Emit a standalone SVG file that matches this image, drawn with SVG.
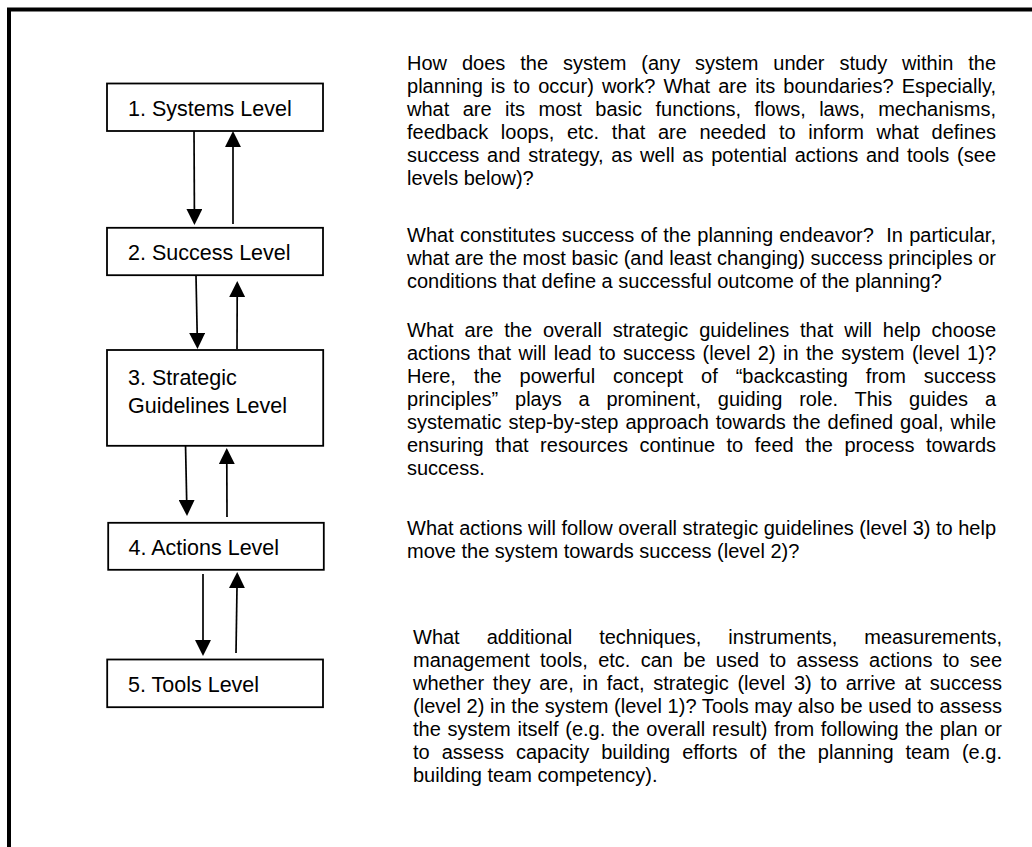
<svg xmlns="http://www.w3.org/2000/svg" width="1032" height="847" viewBox="0 0 1032 847">
<defs>
<style>
.frame{fill:none;stroke:#000;stroke-width:4}
.box{fill:#fff;stroke:#000;stroke-width:1.8}
.lbl{font-family:"Liberation Sans",Arial,sans-serif;font-size:21.5px;fill:#000}
.txt{font-family:"Liberation Sans",Arial,sans-serif;font-size:20px;fill:#000}
.conn{stroke:#000;stroke-width:1.7;fill:none}
</style>
<marker id="ah" markerUnits="userSpaceOnUse" markerWidth="16" markerHeight="16" viewBox="0 0 15 15" refX="1" refY="7.5" orient="auto"><path d="M0,0 L15,7.5 L0,15 Z" fill="#000"/></marker>
</defs>
<rect width="1032" height="847" fill="#fff"/>
<path class="frame" d="M9,847 V9.5 H1032"/>

<g id="connectors">
<path class="conn" marker-end="url(#ah)" d="M194,128 L194.4,210"/>
<path class="conn" marker-end="url(#ah)" d="M233,224 L233,146"/>
<path class="conn" marker-end="url(#ah)" d="M196,276 L197.2,334"/>
<path class="conn" marker-end="url(#ah)" d="M237,349 L237.2,296"/>
<path class="conn" marker-end="url(#ah)" d="M185.5,444 L186.7,501"/>
<path class="conn" marker-end="url(#ah)" d="M227,517 L226.8,463"/>
<path class="conn" marker-end="url(#ah)" d="M203,574 L203,641"/>
<path class="conn" marker-end="url(#ah)" d="M236,653 L237,587"/>
</g>

<g id="node-systems">
<rect class="box" x="107" y="83.5" width="216" height="47.5"/>
<text class="lbl" x="128" y="116">1. Systems Level</text>
</g>
<g id="node-success">
<rect class="box" x="107" y="227.8" width="216" height="47.4"/>
<text class="lbl" x="128" y="260">2. Success Level</text>
</g>
<g id="node-strategic">
<rect class="box" x="107" y="350" width="216.2" height="95.8"/>
<text class="lbl" x="128" y="385">3. Strategic</text>
<text class="lbl" x="128" y="413">Guidelines Level</text>
</g>
<g id="node-actions">
<rect class="box" x="108.2" y="522.8" width="215.6" height="47"/>
<text class="lbl" x="128.5" y="555">4. Actions Level</text>
</g>
<g id="node-tools">
<rect class="box" x="107.2" y="659.5" width="215.8" height="47.7"/>
<text class="lbl" x="128" y="692">5. Tools Level</text>
</g>

<g id="desc-systems" class="txt">
<text x="407" y="69.5" word-spacing="9.38" textLength="589" lengthAdjust="spacing">How does the system (any system under study within the</text>
<text x="407" y="92.5" word-spacing="2.46" textLength="589" lengthAdjust="spacing">planning is to occur) work? What are its boundaries? Especially,</text>
<text x="407" y="115.5" word-spacing="7.91" textLength="589" lengthAdjust="spacing">what are its most basic functions, flows, laws, mechanisms,</text>
<text x="407" y="138.5" word-spacing="7.14" textLength="589" lengthAdjust="spacing">feedback loops, etc. that are needed to inform what defines</text>
<text x="407" y="161.5" word-spacing="2.1" textLength="589" lengthAdjust="spacing">success and strategy, as well as potential actions and tools (see</text>
<text x="407" y="184.5">levels below)?</text>
</g>
<g id="desc-success" class="txt">
<text x="407" y="241.5" xml:space="preserve" word-spacing="0.6" textLength="589" lengthAdjust="spacing">What constitutes success of the planning endeavor?  In particular,</text>
<text x="407" y="264.5" textLength="589" lengthAdjust="spacing">what are the most basic (and least changing) success principles or</text>
<text x="407" y="287.5">conditions that define a successful outcome of the planning?</text>
</g>
<g id="desc-strategic" class="txt">
<text x="407" y="337" word-spacing="5.3" textLength="589" lengthAdjust="spacing">What are the overall strategic guidelines that will help choose</text>
<text x="407" y="360" word-spacing="1.84" textLength="589" lengthAdjust="spacing">actions that will lead to success (level 2) in the system (level 1)?</text>
<text x="407" y="383" word-spacing="12.37" textLength="589" lengthAdjust="spacing">Here, the powerful concept of “backcasting from success</text>
<text x="407" y="406" word-spacing="11.24" textLength="589" lengthAdjust="spacing">principles” plays a prominent, guiding role. This guides a</text>
<text x="407" y="429" word-spacing="1.41" textLength="589" lengthAdjust="spacing">systematic step-by-step approach towards the defined goal, while</text>
<text x="407" y="452" word-spacing="5.95" textLength="589" lengthAdjust="spacing">ensuring that resources continue to feed the process towards</text>
<text x="407" y="475">success.</text>
</g>
<g id="desc-actions" class="txt">
<text x="407" y="534.5" textLength="589" lengthAdjust="spacing">What actions will follow overall strategic guidelines (level 3) to help</text>
<text x="407" y="557.5">move the system towards success (level 2)?</text>
</g>
<g id="desc-tools" class="txt">
<text x="413" y="643.5" word-spacing="21.4" textLength="589" lengthAdjust="spacing">What additional techniques, instruments, measurements,</text>
<text x="413" y="666.5" word-spacing="4.76" textLength="589" lengthAdjust="spacing">management tools, etc. can be used to assess actions to see</text>
<text x="413" y="689.5" word-spacing="3.12" textLength="589" lengthAdjust="spacing">whether they are, in fact, strategic (level 3) to arrive at success</text>
<text x="413" y="712.5" textLength="589" lengthAdjust="spacing">(level 2) in the system (level 1)? Tools may also be used to assess</text>
<text x="413" y="735.5" word-spacing="1.1" textLength="589" lengthAdjust="spacing">the system itself (e.g. the overall result) from following the plan or</text>
<text x="413" y="758.5" word-spacing="6.4" textLength="589" lengthAdjust="spacing">to assess capacity building efforts of the planning team (e.g.</text>
<text x="413" y="781.5">building team competency).</text>
</g>
</svg>
